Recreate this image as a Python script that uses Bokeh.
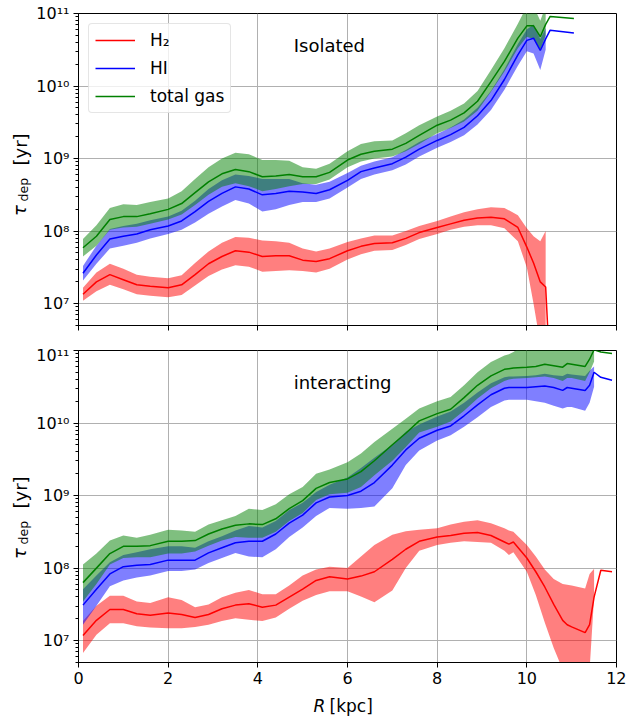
import math
from bokeh.plotting import figure
from bokeh.layouts import column, row
from bokeh.models import Range1d, FixedTicker, CustomJSTickFormatter, Label
from bokeh.core.properties import value
from bokeh.embed import file_html
from bokeh.resources import INLINE

# ---------------- data (log10 of depletion time in yr) ----------------
R_iso = [0.1, 0.4, 0.7, 1.0, 1.3, 1.6, 2.0, 2.3, 2.6, 2.9, 3.2, 3.5, 3.8, 4.1, 4.4, 4.7,
         5.0, 5.3, 5.6, 6.0, 6.3, 6.6, 7.0, 7.3, 7.6, 8.0, 8.3, 8.6, 8.9, 9.2, 9.5, 9.8,
         10.0, 10.15, 10.3, 10.42, 10.52, 11.05]

iso_h2 = [7.13, 7.30, 7.40, 7.33, 7.26, 7.24, 7.22, 7.26, 7.40, 7.55, 7.65, 7.73, 7.71, 7.65, 7.66, 7.66,
          7.60, 7.58, 7.62, 7.73, 7.79, 7.83, 7.84, 7.90, 7.98, 8.05, 8.10, 8.15, 8.18, 8.19, 8.17, 8.05,
          7.78, 7.56, 7.30, 7.23, 6.00, None]
iso_h2_lo = [7.04, 7.17, 7.26, 7.20, 7.13, 7.11, 7.09, 7.12, 7.25, 7.38, 7.47, 7.53, 7.51, 7.44, 7.45, 7.46,
             7.45, 7.43, 7.48, 7.61, 7.68, 7.73, 7.74, 7.81, 7.89, 7.96, 8.02, 8.06, 8.08, 8.08, 8.04, 7.86,
             7.50, 7.00, 6.45, 6.30, None, None]
iso_h2_hi = [7.22, 7.43, 7.55, 7.48, 7.40, 7.37, 7.35, 7.39, 7.56, 7.72, 7.84, 7.92, 7.91, 7.87, 7.86, 7.84,
             7.76, 7.72, 7.76, 7.85, 7.90, 7.94, 7.94, 8.00, 8.07, 8.14, 8.20, 8.26, 8.30, 8.33, 8.32, 8.22,
             8.04, 7.93, 7.86, 8.00, None, None]

iso_hi = [7.42, 7.67, 7.89, 7.93, 7.96, 8.02, 8.07, 8.14, 8.27, 8.41, 8.52, 8.61, 8.58, 8.50, 8.52, 8.55,
          8.54, 8.52, 8.57, 8.70, 8.82, 8.87, 8.93, 9.02, 9.13, 9.25, 9.33, 9.43, 9.59, 9.80, 10.09, 10.43,
          10.63, 10.66, 10.49, 10.65, 10.77, 10.73]
iso_hi_lo = [7.32, 7.55, 7.76, 7.80, 7.84, 7.90, 7.96, 8.02, 8.12, 8.24, 8.34, 8.43, 8.38, 8.27, 8.30, 8.36,
             8.40, 8.40, 8.45, 8.60, 8.72, 8.78, 8.84, 8.92, 9.03, 9.15, 9.23, 9.32, 9.47, 9.67, 9.95, 10.28,
             10.48, 10.45, 10.22, 10.50, None, None]
iso_hi_hi = [7.52, 7.80, 8.03, 8.07, 8.10, 8.15, 8.20, 8.28, 8.42, 8.58, 8.70, 8.78, 8.76, 8.72, 8.72, 8.72,
             8.66, 8.64, 8.68, 8.80, 8.90, 8.96, 9.02, 9.12, 9.23, 9.34, 9.43, 9.54, 9.70, 9.93, 10.23, 10.58,
             10.78, 10.85, 10.65, 10.80, None, None]

iso_gas = [7.77, 7.93, 8.16, 8.20, 8.20, 8.24, 8.30, 8.38, 8.53, 8.68, 8.79, 8.85, 8.82, 8.75, 8.76, 8.78,
           8.75, 8.75, 8.81, 8.98, 9.06, 9.10, 9.13, 9.21, 9.32, 9.46, 9.53, 9.63, 9.79, 10.06, 10.34, 10.66,
           10.83, 10.83, 10.68, 10.85, 10.96, 10.93]
iso_gas_lo = [7.65, 7.80, 8.02, 8.05, 8.06, 8.10, 8.16, 8.23, 8.36, 8.50, 8.61, 8.66, 8.62, 8.55, 8.58, 8.62,
              8.65, 8.65, 8.71, 8.88, 8.96, 9.00, 9.03, 9.10, 9.20, 9.35, 9.42, 9.51, 9.66, 9.92, 10.20, 10.52,
              10.68, 10.65, 10.50, 10.70, None, None]
iso_gas_hi = [7.89, 8.08, 8.32, 8.37, 8.36, 8.40, 8.45, 8.55, 8.72, 8.88, 9.00, 9.08, 9.06, 8.98, 8.98, 8.97,
              8.88, 8.86, 8.93, 9.10, 9.20, 9.24, 9.25, 9.35, 9.46, 9.58, 9.66, 9.76, 9.93, 10.22, 10.52, 10.86,
              11.10, 11.10, 10.90, 11.10, None, None]

R_int = [0.1, 0.4, 0.7, 1.0, 1.3, 1.6, 2.0, 2.3, 2.6, 2.9, 3.2, 3.5, 3.8, 4.1, 4.4, 4.7,
         5.0, 5.3, 5.6, 6.0, 6.3, 6.6, 7.0, 7.3, 7.6, 8.0, 8.3, 8.6, 8.9, 9.2, 9.5, 9.6, 9.7,
         10.0, 10.2, 10.4, 10.6, 10.8, 10.9, 11.0, 11.3, 11.4, 11.5, 11.65, 11.9]

int_h2 = [7.07, 7.28, 7.43, 7.43, 7.37, 7.35, 7.38, 7.36, 7.32, 7.36, 7.44, 7.49, 7.51, 7.46, 7.49, 7.60,
          7.71, 7.83, 7.88, 7.85, 7.89, 7.95, 8.12, 8.26, 8.37, 8.43, 8.45, 8.48, 8.49, 8.45, 8.36, 8.33, 8.36,
          8.14, 7.95, 7.74, 7.50, 7.28, 7.22, 7.19, 7.11, 7.22, 7.60, 7.97, 7.95]
int_h2_lo = [6.83, 7.08, 7.24, 7.24, 7.20, 7.18, 7.17, 7.17, 7.19, 7.22, 7.27, 7.31, 7.29, 7.27, 7.32, 7.44,
             7.55, 7.63, 7.68, 7.68, 7.61, 7.53, 7.69, 8.00, 8.24, 8.32, 8.35, 8.37, 8.36, 8.35, 8.24, 8.18, 8.22,
             7.95, 7.63, 7.25, 6.90, 6.60, 6.30, 6.00, 6.00, 6.60, 7.60, None, None]
int_h2_hi = [7.27, 7.48, 7.62, 7.62, 7.54, 7.52, 7.60, 7.56, 7.46, 7.50, 7.60, 7.66, 7.70, 7.64, 7.64, 7.76,
             7.90, 7.98, 8.02, 8.00, 8.16, 8.32, 8.46, 8.51, 8.53, 8.55, 8.60, 8.64, 8.66, 8.62, 8.55, 8.52, 8.50,
             8.32, 8.16, 7.98, 7.85, 7.78, 7.77, 7.76, 7.72, 7.92, 7.99, None, None]

int_hi = [7.49, 7.71, 7.92, 8.02, 8.04, 8.05, 8.11, 8.11, 8.11, 8.21, 8.28, 8.35, 8.37, 8.37, 8.47, 8.62,
          8.73, 8.90, 8.98, 9.00, 9.06, 9.18, 9.42, 9.63, 9.79, 9.90, 9.96, 10.10, 10.25, 10.39, 10.48, 10.49, 10.49,
          10.49, 10.50, 10.51, 10.49, 10.45, 10.49, 10.48, 10.45, 10.52, 10.70, 10.63, 10.59]
int_hi_lo = [7.22, 7.48, 7.75, 7.83, 7.87, 7.90, 7.96, 7.96, 7.98, 8.07, 8.14, 8.21, 8.16, 8.15, 8.26, 8.43,
             8.56, 8.72, 8.83, 8.82, 8.83, 8.85, 9.10, 9.42, 9.62, 9.76, 9.83, 9.95, 10.08, 10.22, 10.31, 10.32, 10.32,
             10.32, 10.30, 10.28, 10.24, 10.20, 10.22, 10.22, 10.17, 10.28, 10.50, None, None]
int_hi_hi = [7.71, 7.90, 8.08, 8.18, 8.22, 8.26, 8.30, 8.30, 8.28, 8.37, 8.44, 8.52, 8.58, 8.56, 8.65, 8.80,
             8.90, 9.05, 9.15, 9.25, 9.38, 9.52, 9.70, 9.88, 9.98, 10.09, 10.16, 10.28, 10.42, 10.55, 10.63, 10.64, 10.64,
             10.65, 10.66, 10.68, 10.66, 10.65, 10.68, 10.67, 10.65, 10.72, 10.78, None, None]

int_gas = [7.80, 8.00, 8.20, 8.30, 8.30, 8.31, 8.37, 8.37, 8.38, 8.47, 8.54, 8.59, 8.61, 8.60, 8.68, 8.82,
           8.93, 9.10, 9.18, 9.23, 9.33, 9.48, 9.70, 9.86, 10.03, 10.13, 10.19, 10.35, 10.52, 10.65, 10.74, 10.75, 10.76,
           10.77, 10.78, 10.81, 10.79, 10.77, 10.82, 10.81, 10.78, 10.88, 11.01, 10.98, 10.96]
int_gas_lo = [7.54, 7.78, 8.05, 8.14, 8.15, 8.15, 8.20, 8.20, 8.23, 8.31, 8.38, 8.43, 8.42, 8.42, 8.50, 8.65,
              8.76, 8.94, 9.02, 9.04, 9.12, 9.28, 9.48, 9.67, 9.87, 9.95, 10.02, 10.17, 10.34, 10.48, 10.58, 10.60, 10.61,
              10.62, 10.63, 10.64, 10.62, 10.58, 10.62, 10.62, 10.58, 10.70, 10.85, None, None]
int_gas_hi = [8.05, 8.20, 8.38, 8.45, 8.42, 8.46, 8.53, 8.52, 8.50, 8.60, 8.66, 8.72, 8.82, 8.80, 8.88, 9.02,
              9.12, 9.30, 9.36, 9.46, 9.58, 9.74, 9.92, 10.06, 10.20, 10.30, 10.36, 10.52, 10.70, 10.84, 10.93, 10.95, 10.98,
              11.10, 11.10, 11.10, 11.10, 11.10, 11.10, 11.10, 11.10, 11.10, 11.10, None, None]

labels = ["H\u2082", "HI", "total gas"]
colors = ["#ff0000", "#0000ff", "#008000"]
x_ticks = [0, 2, 4, 6, 8, 10, 12]
y_ticks = [1e7, 1e8, 1e9, 1e10, 1e11]
y_lim = (5e6, 1e11)
x_lim = (0, 12)

FONT = "DejaVu Sans"

# layout geometry (pixels)
LAB_W = 32      # width of the strip holding the y-axis title
AX_L = 46       # border left of each panel (tick labels)
FRAME_W = 538
FRAME_H = 312
RIGHT = 10
PANEL_W = AX_L + FRAME_W + RIGHT
TOP_H = 13 + FRAME_H + 20
BOT_H = 5 + FRAME_H + 28
XLAB_H = 719 - TOP_H - BOT_H


def lin(vals):
    return [float("nan") if v is None else 10 ** v for v in vals]


def band_points(R, lo, hi):
    xs, y1, y2 = [], [], []
    for r, a, b in zip(R, lo, hi):
        if a is not None and b is not None:
            xs.append(r)
            y1.append(10 ** a)
            y2.append(10 ** b)
    return xs, y1, y2


minor = [k * 10 ** n for n in range(6, 11) for k in range(2, 10) if y_lim[0] <= k * 10 ** n <= y_lim[1]]

sup_js = """
const sup = {'0':'\u2070','1':'\u00b9','2':'\u00b2','3':'\u00b3','4':'\u2074','5':'\u2075','6':'\u2076','7':'\u2077','8':'\u2078','9':'\u2079','-':'\u207b'};
const e = Math.round(Math.log10(tick));
return '10' + String(e).split('').map(c => sup[c]).join('');
"""


def make_panel(R, series, text, top, show_legend):
    p = figure(width=PANEL_W, height=TOP_H if top else BOT_H, title=None,
               x_range=Range1d(*x_lim), y_range=Range1d(*y_lim), y_axis_type="log",
               output_backend="svg", toolbar_location=None,
               min_border_left=AX_L, min_border_right=RIGHT,
               min_border_top=13 if top else 5, min_border_bottom=20 if top else 28)
    p.outline_line_color = "black"
    p.outline_line_alpha = 1
    p.outline_line_width = 1
    p.background_fill_color = "white"
    p.border_fill_color = "white"

    for (mid, lo, hi), c in zip(series, colors):
        xs, y1, y2 = band_points(R, lo, hi)
        p.varea(x=xs, y1=y1, y2=y2, fill_color=c, fill_alpha=0.5)
    for (mid, lo, hi), c, lab in zip(series, colors, labels):
        if show_legend:
            p.line(R, lin(mid), line_color=c, line_width=1.5, legend_label=lab)
        else:
            p.line(R, lin(mid), line_color=c, line_width=1.5)

    p.yaxis.ticker = FixedTicker(ticks=y_ticks, minor_ticks=minor)
    p.ygrid.ticker = FixedTicker(ticks=y_ticks)
    p.xaxis.ticker = FixedTicker(ticks=x_ticks, minor_ticks=[])
    p.xgrid.ticker = FixedTicker(ticks=x_ticks)
    p.yaxis.formatter = CustomJSTickFormatter(code=sup_js)
    p.grid.grid_line_color = "#b0b0b0"
    p.grid.grid_line_width = 1
    p.grid.grid_line_alpha = 1

    for ax in (p.xaxis[0], p.yaxis[0]):
        ax.axis_line_color = "black"
        ax.major_tick_line_color = "black"
        ax.minor_tick_line_color = "black"
        ax.major_tick_out = 5
        ax.major_tick_in = 0
        ax.minor_tick_out = 3
        ax.minor_tick_in = 0
        ax.major_label_text_font = FONT
        ax.major_label_text_font_size = "16px"
        ax.major_label_text_color = "black"
        ax.major_label_standoff = 4
        try:
            ax.major_label_text_line_height = 1.0
        except Exception:
            pass
    p.xaxis.minor_tick_line_color = None
    if top:
        p.xaxis.major_label_overrides = {t: "" for t in x_ticks}
        p.xaxis.major_label_text_font_size = "1px"
        p.xaxis.major_label_standoff = 0

    p.add_layout(Label(x=4.80, y=10 ** 10.556, text=text, text_font=FONT, text_font_size="18px",
                       text_color="black", text_align="left", text_baseline="alphabetic"))

    if show_legend:
        lg = p.legend[0]
        lg.location = "top_left"
        lg.margin = 10
        lg.padding = 6
        lg.spacing = 8
        lg.glyph_width = 40
        lg.glyph_height = 20
        lg.label_height = 20
        lg.label_standoff = 15
        lg.label_text_font = FONT
        lg.label_text_font_size = "17px"
        lg.label_text_color = "black"
        lg.border_line_color = "#cccccc"
        lg.border_line_width = 1
        lg.background_fill_alpha = 0.8
        try:
            lg.border_radius = 4
        except Exception:
            pass
    return p


def blank(width, height, xr, yr, left=0, right=0):
    f = figure(width=width, height=height, x_range=xr, y_range=yr, title=None,
               output_backend="svg", toolbar_location=None,
               x_axis_location=None, y_axis_location=None,
               min_border_left=left, min_border_right=right, min_border_top=0, min_border_bottom=0)
    f.outline_line_color = None
    f.grid.visible = False
    f.background_fill_color = "white"
    f.border_fill_color = "white"
    return f


def ylabel_strip(height, dy):
    # y-axis title "tau_dep [yr]" drawn as rotated text (pixel coordinates, y measured upward)
    f = blank(LAB_W, height, Range1d(0, LAB_W), Range1d(0, height))
    ang = math.pi / 2
    f.text(x=[19.0], y=[height - (215.5 - dy)], text=["\u03c4"], angle=ang,
           text_font=value(FONT), text_font_style="italic", text_font_size=value("18px"),
           text_color="black", text_align="left", text_baseline="alphabetic")
    f.text(x=[22.5], y=[height - (201.0 - dy)], text=["dep"], angle=ang,
           text_font=value(FONT), text_font_size=value("12.6px"), text_color="black",
           text_align="left", text_baseline="alphabetic")
    f.text(x=[20.0], y=[height - (165.0 - dy)], text=["[yr]"], angle=ang,
           text_font=value(FONT), text_font_size=value("18px"), text_color="black",
           text_align="left", text_baseline="alphabetic")
    return f


p_top = make_panel(R_iso, [(iso_h2, iso_h2_lo, iso_h2_hi), (iso_hi, iso_hi_lo, iso_hi_hi),
                           (iso_gas, iso_gas_lo, iso_gas_hi)], "Isolated", True, True)
p_bot = make_panel(R_int, [(int_h2, int_h2_lo, int_h2_hi), (int_hi, int_hi_lo, int_hi_hi),
                           (int_gas, int_gas_lo, int_gas_hi)], "interacting", False, False)

# x-axis title "R [kpc]" below the lower panel, sharing the panel's x scale
xlab = blank(PANEL_W, XLAB_H, p_bot.x_range, Range1d(0, XLAB_H), left=AX_L, right=RIGHT)
xlab.text(x=[5.242], y=[XLAB_H - 15], text=["R"], text_font=value(FONT), text_font_style="italic",
          text_font_size=value("17px"), text_line_height=1.0, text_color="black",
          text_align="left", text_baseline="alphabetic")
xlab.text(x=[5.60], y=[XLAB_H - 15], text=["[kpc]"], text_font=value(FONT),
          text_font_size=value("17px"), text_line_height=1.0, text_color="black",
          text_align="left", text_baseline="alphabetic")

left = column(ylabel_strip(TOP_H, 0), ylabel_strip(BOT_H, TOP_H - 343),
              blank(LAB_W, XLAB_H, Range1d(0, 1), Range1d(0, 1)), spacing=0)
right = column(p_top, p_bot, xlab, spacing=0)
layout = row(left, right, spacing=0)
open("out.html", "w").write(file_html(layout, INLINE))
